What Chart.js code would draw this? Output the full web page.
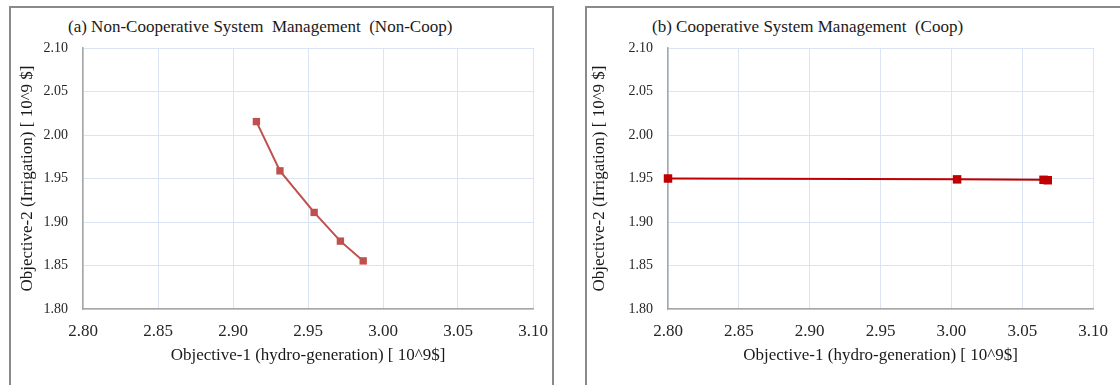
<!DOCTYPE html>
<html>
<head>
<meta charset="utf-8">
<script src="https://cdn.jsdelivr.net/npm/chart.js@4.4.0/dist/chart.umd.min.js"></script>
<style>
    body { margin: 0; background: #fff; width: 1120px; height: 385px; overflow: hidden; position: relative; }
    .panel { position: absolute; top: 6px; height: 400px; border: 2px solid #8a8a8a; box-sizing: border-box; }
    .panel-title { position: absolute; top: 17px; font-family: "Liberation Serif", serif; font-size: 17px; color: #1a1a1a; white-space: pre; line-height: 20px; }
    canvas { position: absolute; top: 0; }
</style>
</head>
<body>

<div class="panel" style="left: 9px; width: 545px;"></div>
<div class="panel" style="left: 585px; width: 560px;"></div>

<div class="panel-title" style="left: 68px;">(a) Non-Cooperative System  Management  (Non-Coop)</div>
<div class="panel-title" style="left: 652px;">(b) Cooperative System Management  (Coop)</div>

<canvas id="chartNonCoop" width="560" height="385" style="left: 0;"></canvas>
<canvas id="chartCoop" width="560" height="385" style="left: 560px;"></canvas>

<script>
// ----- DATA -----
const xTicks = [2.80, 2.85, 2.90, 2.95, 3.00, 3.05, 3.10];
const yTicks = [1.80, 1.85, 1.90, 1.95, 2.00, 2.05, 2.10];

// (a) Non-Coop : hydro-generation vs irrigation
const nonCoopX = [2.9156, 2.9313, 2.9541, 2.9716, 2.9868];
const nonCoopY = [2.0154, 1.9588, 1.9110, 1.8780, 1.8553];

// (b) Coop
const coopX = [2.800, 3.004, 3.065, 3.068];
const coopY = [1.9500, 1.9490, 1.9485, 1.9480];

const xTitle = "Objective-1 (hydro-generation) [ 10^9$]";
const yTitle = "Objective-2 (Irrigation) [ 10^9 $]";


// ----- HELPERS -----
const serif = "'Liberation Serif', 'Times New Roman', serif";

function toPoints(xs, ys) {
    return xs.map((x, i) => ({ x: x, y: ys[i] }));
}

function makeChart(id, points, color, radius, yWidth, yTitlePad, padRight) {
    const ctx = document.getElementById(id).getContext("2d");

    return new Chart(ctx, {
        type: "scatter",
        data: {
            datasets: [{
                data: points,
                showLine: true,
                borderColor: color,
                borderWidth: 2,
                backgroundColor: color,
                pointStyle: "rect",
                pointRadius: radius,
                pointHoverRadius: radius,
                pointBorderWidth: 0,
                clip: false
            }]
        },
        options: {
            responsive: false,
            animation: false,
            events: [],
            layout: { padding: { top: 48, left: 0, right: padRight, bottom: 19 } },
            plugins: { legend: { display: false }, tooltip: { enabled: false } },
            scales: {
                x: {
                    type: "linear",
                    min: 2.80,
                    max: 3.10,
                    afterBuildTicks: s => { s.ticks = xTicks.map(v => ({ value: v })); },
                    afterFit: s => { s.height = 57; },
                    ticks: {
                        padding: 12,
                        color: "#262626",
                        font: { family: serif, size: 17 },
                        callback: v => v.toFixed(2)
                    },
                    grid: { color: "#d9e5f2", lineWidth: 1, drawTicks: false },
                    border: { color: "#a6a6a6", width: 1.5 },
                    title: {
                        display: true,
                        text: xTitle,
                        color: "#1a1a1a",
                        font: { family: serif, size: 17 },
                        padding: { top: 4, bottom: 0 }
                    }
                },
                y: {
                    type: "linear",
                    min: 1.80,
                    max: 2.10,
                    afterBuildTicks: s => { s.ticks = yTicks.map(v => ({ value: v })); },
                    afterFit: s => { s.width = yWidth; },
                    ticks: {
                        padding: 15,
                        color: "#262626",
                        font: { family: serif, size: 14 },
                        callback: v => v.toFixed(2)
                    },
                    grid: { color: "#d9e5f2", lineWidth: 1, drawTicks: false },
                    border: { color: "#a6a6a6", width: 1.5 },
                    title: {
                        display: true,
                        text: yTitle,
                        color: "#1a1a1a",
                        font: { family: serif, size: 17 },
                        padding: { top: yTitlePad, bottom: 0 }
                    }
                }
            }
        }
    });
}


// ----- CHARTS -----
makeChart("chartNonCoop", toPoints(nonCoopX, nonCoopY), "#c0504d", 5.2, 83, 17, 27);
makeChart("chartCoop", toPoints(coopX, coopY), "#c00000", 6, 108, 29, 18);
</script>
</body>
</html>
